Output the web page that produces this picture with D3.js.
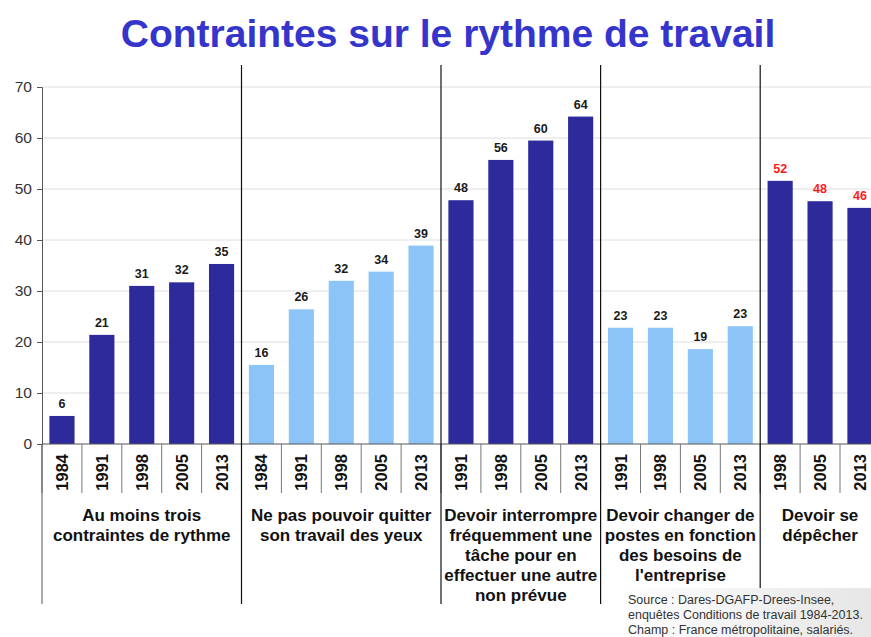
<!DOCTYPE html>
<html>
<head>
<meta charset="utf-8">
<script src="https://cdn.jsdelivr.net/npm/d3@7"></script>
<style>
  body { margin: 0; background: #fff; }
  svg { display: block; font-family: "Liberation Sans", Arial, sans-serif; }
</style>
</head>
<body>
<div id="chart"></div>
<script>
// groups of bars, one per question
const groupNames = [
    ["Au moins trois", "contraintes de rythme"],
    ["Ne pas pouvoir quitter", "son travail des yeux"],
    ["Devoir interrompre", "fréquemment une", "tâche pour en", "effectuer une autre", "non prévue"],
    ["Devoir changer de", "postes en fonction", "des besoins de", "l'entreprise"],
    ["Devoir se", "dépêcher"]
];
const groupYears = [
    ["1984", "1991", "1998", "2005", "2013"],
    ["1984", "1991", "1998", "2005", "2013"],
    ["1991", "1998", "2005", "2013"],
    ["1991", "1998", "2005", "2013"],
    ["1998", "2005", "2013"]
];
const groupValues = [
    [5.5, 21.4, 31, 31.7, 35.3],
    [15.5, 26.4, 32, 33.8, 38.9],
    [47.8, 55.7, 59.5, 64.2],
    [22.8, 22.8, 18.6, 23.1],
    [51.6, 47.6, 46.3]
];
const yTicks = [0, 10, 20, 30, 40, 50, 60, 70];
const sourceLines = [
    "Source : Dares-DGAFP-Drees-Insee,",
    "enquêtes Conditions de travail 1984-2013.",
    "Champ : France métropolitaine, salariés."
];

const width = 871;
const height = 637;
const darkBar = "#2d2a9c";
const lightBar = "#8cc4f8";

const svg = d3.select("#chart")
    .append("svg")
    .attr("width", width)
    .attr("height", height);

// flatten the groups into slots along x
const slots = [];
groupYears.forEach((years, g) => {
    years.forEach((year, i) => {
        slots.push({ key: g + "-" + i, group: g, year: year, value: groupValues[g][i] });
    });
});

const x = d3.scaleBand()
    .domain(slots.map(d => d.key))
    .range([42, 42 + slots.length * 39.9])
    .paddingInner(0.37)
    .paddingOuter(0.185);

const y = d3.scaleLinear()
    .domain([0, 70])
    .range([444, 87]);

const step = x.step();
const edge = i => x.range()[0] + i * step;

// gridlines
svg.append("g")
    .selectAll("line")
    .data(yTicks.slice(1))
    .join("line")
    .attr("x1", 42)
    .attr("x2", width)
    .attr("y1", d => y(d))
    .attr("y2", d => y(d))
    .attr("stroke", "#dedede")
    .attr("stroke-width", 1);

// y axis
const yAxis = svg.append("g")
    .attr("transform", "translate(42,0)")
    .call(d3.axisLeft(y).tickValues(yTicks).tickSize(5).tickPadding(5));
yAxis.select(".domain").attr("stroke", "#555");
yAxis.selectAll(".tick line").attr("stroke", "#555");
yAxis.selectAll("text")
    .attr("font-size", 15.5)
    .attr("fill", "#333")
    .attr("font-family", "'Liberation Sans', Arial, sans-serif");

// bars
svg.append("g")
    .selectAll("rect")
    .data(slots)
    .join("rect")
    .attr("x", d => x(d.key))
    .attr("y", d => y(d.value))
    .attr("width", x.bandwidth())
    .attr("height", d => y(0) - y(d.value))
    .attr("fill", d => d.group % 2 === 0 ? darkBar : lightBar);

// value labels
svg.append("g")
    .selectAll("text")
    .data(slots)
    .join("text")
    .attr("x", d => x(d.key) + x.bandwidth() / 2)
    .attr("y", d => y(d.value) - 8)
    .attr("text-anchor", "middle")
    .attr("font-size", 12.5)
    .attr("font-weight", "bold")
    .attr("fill", d => d.group === 4 ? "#ff1a1a" : "#1a1a1a")
    .text(d => Math.round(d.value));

// x axis line
svg.append("line")
    .attr("x1", 42).attr("x2", width)
    .attr("y1", y(0)).attr("y2", y(0))
    .attr("stroke", "#555");

// slot boundaries under the axis
svg.append("g")
    .selectAll("line")
    .data(d3.range(slots.length + 1))
    .join("line")
    .attr("x1", d => edge(d))
    .attr("x2", d => edge(d))
    .attr("y1", y(0))
    .attr("y2", 493)
    .attr("stroke", "#777");

// year labels
svg.append("g")
    .selectAll("text")
    .data(slots)
    .join("text")
    .attr("transform", d => `translate(${x(d.key) + x.bandwidth() / 2 + 6},454) rotate(-90)`)
    .attr("text-anchor", "end")
    .attr("font-size", 16.5)
    .attr("font-weight", "bold")
    .attr("fill", "#111")
    .text(d => d.year);

// group separators and group names
let start = 0;
const groupEdges = [0];
groupYears.forEach(years => {
    start += years.length;
    groupEdges.push(start);
});

svg.append("g")
    .selectAll("line")
    .data(groupEdges.slice(1, -1))
    .join("line")
    .attr("x1", d => edge(d))
    .attr("x2", d => edge(d))
    .attr("y1", 65)
    .attr("y2", 604)
    .attr("stroke", "#111")
    .attr("stroke-width", 1.2);

svg.append("line")
    .attr("x1", 42).attr("x2", 42)
    .attr("y1", y(0)).attr("y2", 604)
    .attr("stroke", "#555");

const names = svg.append("g")
    .selectAll("text")
    .data(groupNames)
    .join("text")
    .attr("x", (d, i) => (edge(groupEdges[i]) + edge(groupEdges[i + 1])) / 2)
    .attr("y", 521)
    .attr("text-anchor", "middle")
    .attr("font-size", 17)
    .attr("font-weight", "bold")
    .attr("fill", "#111");
names.selectAll("tspan")
    .data(d => d)
    .join("tspan")
    .attr("x", function () { return d3.select(this.parentNode).attr("x"); })
    .attr("dy", (d, i) => i === 0 ? 0 : 20)
    .text(d => d);

// title
svg.append("text")
    .attr("x", 448)
    .attr("y", 47)
    .attr("text-anchor", "middle")
    .attr("font-size", 39)
    .attr("font-weight", "bold")
    .attr("fill", "#3535cc")
    .text("Contraintes sur le rythme de travail");

// source box
const grad = svg.append("defs").append("linearGradient")
    .attr("id", "srcGrad")
    .attr("x1", 0).attr("x2", 1).attr("y1", 0).attr("y2", 0);
grad.append("stop").attr("offset", "0%").attr("stop-color", "#ffffff");
grad.append("stop").attr("offset", "100%").attr("stop-color", "#e6e6e6");

svg.append("rect")
    .attr("x", 620)
    .attr("y", 588)
    .attr("width", width - 620)
    .attr("height", height - 588)
    .attr("fill", "url(#srcGrad)");

svg.append("g")
    .selectAll("text")
    .data(sourceLines)
    .join("text")
    .attr("x", 628)
    .attr("y", (d, i) => 604 + i * 15)
    .attr("font-size", 12.5)
    .attr("fill", "#333")
    .text(d => d);
</script>
</body>
</html>
